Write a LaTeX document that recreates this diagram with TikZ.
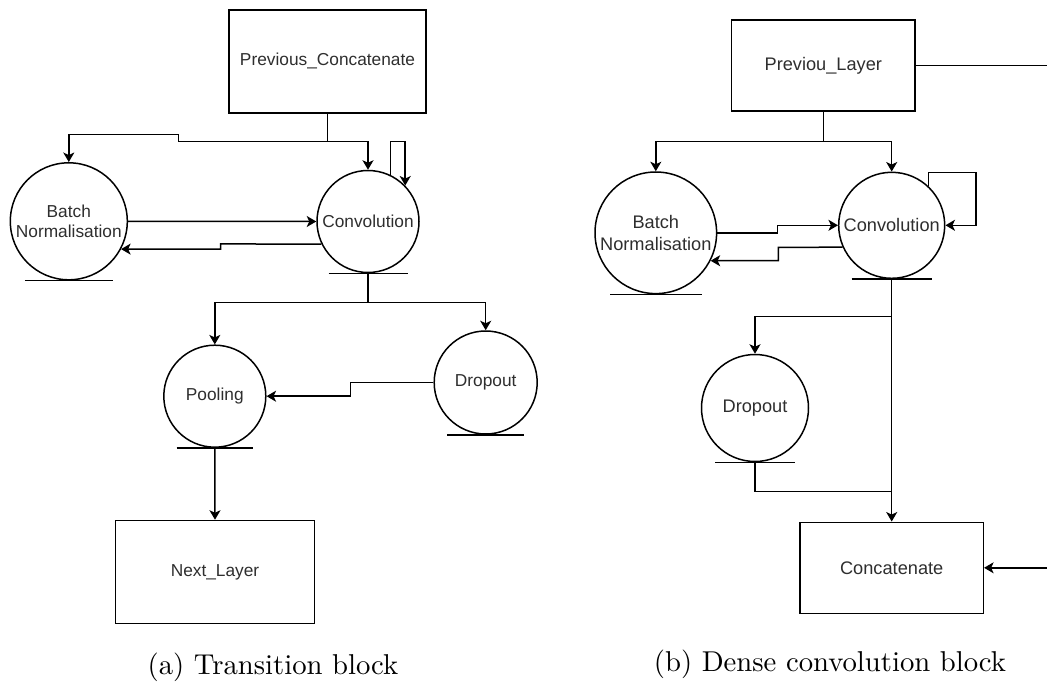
\documentclass[tikz,border=0pt]{standalone}
\usepackage{fontspec}
\newfontfamily\nodefont{Liberation Sans}
\newfontfamily\capfont{lmroman10-regular}[Extension=.otf]
\usetikzlibrary{arrows.meta}
\newcommand\groundline[2]{\draw ([xshift=-#2pt]#1.south) -- ([xshift=#2pt]#1.south);}
\begin{document}
\begin{tikzpicture}[x=1pt,y=-1pt,
  line width=1.5pt,
  arr/.style={-{Stealth[length=9.5pt,width=11pt,inset=2.5pt]}},
  fa/.style={font=\nodefont\fontsize{17.3}{20.4}\selectfont, text=black!82},
  fb/.style={font=\nodefont\fontsize{18.2}{21.4}\selectfont, text=black!82},
  boxa/.style={draw, fa, minimum width=197pt, minimum height=103pt, inner sep=0pt},
  boxb/.style={draw, fb, minimum width=183.3pt, minimum height=91pt, inner sep=0pt},
  proc/.style={draw, circle, inner sep=0pt, align=center, minimum size=#1},
  caption/.style={anchor=base, font=\capfont\fontsize{28.7}{34}\selectfont}
]
\useasboundingbox (0,0) rectangle (1047,690);

% ---------- panel (a) ----------
\node[boxa] (pc) at (327.5,61.3) {Previous\_Concatenate};
\node[proc=117pt, fa] (bna) at (68.8,221.3) {Batch\\Normalisation};
\node[proc=102pt, fa] (conva) at (368,221.5) {Convolution};
\node[proc=102pt, fa] (poola) at (214.8,396.2) {Pooling};
\node[proc=103pt, fa] (dropa) at (485.7,382.5) {Dropout};
\node[boxa, minimum width=199pt] (nl) at (215,572) {Next\_Layer};

\groundline{bna}{44}
\groundline{conva}{39.5}
\groundline{poola}{38.3}
\groundline{dropa}{38.7}

\coordinate (ja) at (327.5,141.7);
\draw (pc.south) -- (ja);
\draw[arr] (ja) -| (conva.north);
\draw[arr] (ja) -- (178.3,141.7) -- (178.3,134.3) -| (bna.north);
\draw[arr] (conva.64) -- (conva.64 |- ja) -| (conva.44);
\draw[arr] (bna.east) -- (conva.west);
\draw[arr] (conva.206) -- (220.7,243.9) |- (bna.332.5);
\coordinate (jb) at (368,302.3);
\draw (conva.south) -- (jb);
\draw[arr] (jb) -| (poola.north);
\draw[arr] (jb) -| (dropa.north);
\draw[arr] (dropa.west) -- (350.7,382.5) |- (poola.east);
\draw[arr] (poola.south) -- (nl.north);

\node[caption] (capa) at (273,674) {(a) Transition block};

% ---------- panel (b) ----------
\node[boxb] (pl) at (823.3,65.5) {Previou\_Layer};
\node[proc=121.6pt, fb] (bnb) at (655.8,232.8) {Batch\\Normalisation};
\node[proc=106pt, fb] (convb) at (891.7,225.3) {Convolution};
\node[proc=107pt, fb] (dropb) at (755,408) {Dropout};
\node[boxb] (cc) at (891.7,567.8) {Concatenate};

\groundline{bnb}{45.8}
\groundline{convb}{40}
\groundline{dropb}{40}

\coordinate (jc) at (823.3,141.7);
\draw (pl.south) -- (jc);
\draw[arr] (jc) -| (bnb.north);
\draw[arr] (jc) -| (convb.north);
\draw[arr] (convb.47) |- (976,172.3) |- (convb.east);
\draw[arr] (bnb.east) -- (777.3,232.8) |- (convb.west);
\draw[arr] (convb.204.6) -- (778.3,247.4) |- (bnb.333.4);
\draw[arr] (convb.south) -- (cc.north);
\coordinate (jd) at (891.7,316.7);
\draw[arr] (jd) -| (dropb.north);
\coordinate (je) at (891.7,491.7);
\draw (dropb.south) |- (je);
\begin{scope}
  \clip (0,0) rectangle (1047,690);
  \draw[arr] (pl.east) -- (1065,65.5) -- (1065,567.8) -- (cc.east);
\end{scope}

\node[caption] (capb) at (830,671) {(b) Dense convolution block};
\end{tikzpicture}
\end{document}
